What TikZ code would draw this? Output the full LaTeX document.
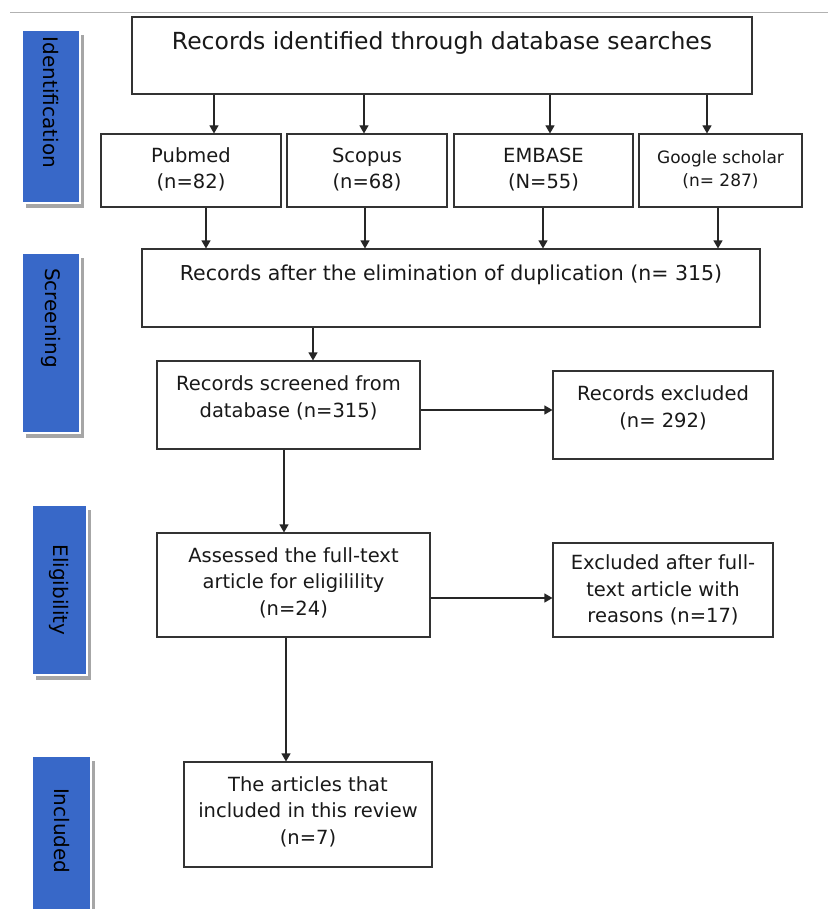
\documentclass[tikz,border=0pt]{standalone}
\usepackage{fontspec}
\setmainfont{DejaVu Sans}
\usetikzlibrary{arrows.meta,shadows}
\definecolor{stageblue}{RGB}{56,104,200}

\begin{document}
\begin{tikzpicture}[x=1pt,y=-1pt,
  box/.style={draw=black!80,line width=1.1pt,fill=white,align=center,inner sep=0pt,text=black!90,font=\fontsize{19.5}{26.5}\selectfont},
  stage/.style={fill=stageblue,draw=white,line width=2pt,rotate=-90,inner sep=0pt,minimum height=58pt,font=\fontsize{20}{24}\selectfont,drop shadow={shadow xshift=4pt,shadow yshift=-5pt,fill=black!35,opacity=1}},
  arr/.style={line width=1.1pt,draw=black!85,-{Triangle[length=8pt,width=9pt]}}]
\useasboundingbox (0,0) rectangle (828,909);
\draw[black!30,line width=1pt] (10,13) -- (828,13);

\node[stage,minimum width=173pt,text width=159pt,align=left] (ident) at (51,116.5) {Identification};
\node[stage,minimum width=180pt,text width=150pt,align=left] (screen) at (51,343) {Screening};
\node[stage,minimum width=170pt,minimum height=55pt,align=center] (elig) at (59.5,590) {Eligibility};
\node[stage,minimum width=165pt,minimum height=59pt,text width=101pt,align=left] (incl) at (61.5,838.5) {Included};

\node[box,minimum width=620pt,minimum height=77pt,text height=33pt,text depth=44pt,font=\fontsize{23.5}{28}\selectfont] (search) at (442,55.5) {Records identified through database searches};

\node[box,minimum width=180pt,minimum height=73pt,text height=55pt,text depth=18pt] (pubmed) at (191,170.5) {Pubmed\\(n=82)};
\node[box,minimum width=160pt,minimum height=73pt,text height=55pt,text depth=18pt] (scopus) at (367,170.5) {Scopus\\(n=68)};
\node[box,minimum width=179pt,minimum height=73pt,text height=55pt,text depth=18pt] (embase) at (543.5,170.5) {EMBASE\\(N=55)};
\node[box,minimum width=163pt,minimum height=73pt,text height=53pt,text depth=20pt,font=\fontsize{17}{23}\selectfont] (google) at (720.5,170.5) {Google scholar\\(n= 287)};

\draw[arr] (search.south -| 214,0) -- (pubmed.north -| 214,0);
\draw[arr] (search.south -| 364,0) -- (scopus.north -| 364,0);
\draw[arr] (search.south -| 550,0) -- (embase.north -| 550,0);
\draw[arr] (search.south -| 707,0) -- (google.north -| 707,0);

\node[box,minimum width=618pt,minimum height=78pt,text height=31pt,text depth=47pt,font=\fontsize{20.5}{26.5}\selectfont] (dedup) at (451,288) {Records after the elimination of duplication (n= 315)};

\draw[arr] (pubmed.south -| 206,0) -- (dedup.north -| 206,0);
\draw[arr] (scopus.south -| 365,0) -- (dedup.north -| 365,0);
\draw[arr] (embase.south -| 543,0) -- (dedup.north -| 543,0);
\draw[arr] (google.south -| 718,0) -- (dedup.north -| 718,0);

\node[box,minimum width=263pt,minimum height=88pt,text height=56pt,text depth=32pt] (screened) at (288.5,405) {Records screened from\\database (n=315)};
\node[box,minimum width=220pt,minimum height=88pt,text height=56pt,text depth=32pt] (excluded) at (663,415) {Records excluded\\(n= 292)};

\draw[arr] (dedup.south -| 313,0) -- (screened.north -| 313,0);
\draw[arr] (screened.east |- 0,410) -- (excluded.west |- 0,410);

\node[box,minimum width=273pt,minimum height=104pt,text height=82pt,text depth=22pt] (assessed) at (293.5,585) {Assessed the full-text\\article for eligilility\\(n=24)};
\node[box,minimum width=220pt,minimum height=94pt] (fulltext) at (663,590) {Excluded after full-\\text article with\\reasons (n=17)};

\draw[arr] (screened.south -| 284,0) -- (assessed.north -| 284,0);
\draw[arr] (assessed.east |- 0,598) -- (fulltext.west |- 0,598);

\node[box,minimum width=248pt,minimum height=105pt,text height=82pt,text depth=23pt] (review) at (308,814.5) {The articles that\\included in this review\\(n=7)};

\draw[arr] (assessed.south -| 286,0) -- (review.north -| 286,0);

\end{tikzpicture}
\end{document}
